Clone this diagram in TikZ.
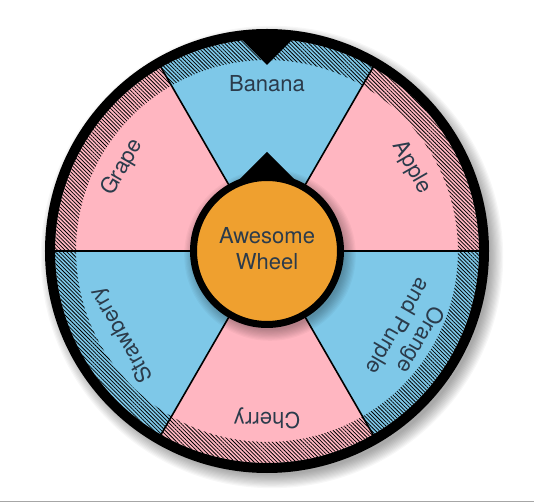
\documentclass[tikz,border=0pt]{standalone}
\usepackage{fontspec}
\setmainfont{TeX Gyre Heros}
\usetikzlibrary{patterns.meta}
\definecolor{segblue}{HTML}{7EC8E8}
\definecolor{segpink}{HTML}{FFB6C1}
\definecolor{hub}{HTML}{EFA02F}
\definecolor{ink}{HTML}{2B3B4B}
\begin{document}
\begin{tikzpicture}[
 lbl/.style={font=\fontsize{22}{26}\selectfont, text=ink, inner sep=0pt, align=center},
 divider/.style={draw=black, line width=1.6pt},
 hatch/.style={pattern={Lines[angle=-45,distance=2.7pt,line width=0.75pt]}, pattern color=black},
 softshade/.style={fill=black, opacity=0.03},
]
\useasboundingbox (-267pt,-251pt) rectangle (267pt,251pt);
\fill[white] (-267pt,-251pt) rectangle (267pt,251pt);
% bottom rule
\fill[gray!70] (-267pt,-251pt) rectangle (267pt,-249.6pt);
% wheel shadow
\foreach \i in {0,...,11} \fill[softshade] (5pt,-6pt) circle ({218pt+\i*1.2pt});
% segments
\foreach \a/\c in {0/segpink,60/segblue,120/segpink,180/segblue,240/segpink,300/segblue}
  \fill[\c] (0,0) -- (\a:212pt) arc[start angle=\a, end angle=\a+60, radius=212pt] -- cycle;
% hatched band
\fill[hatch, even odd rule] (0,0) circle (212pt) (0,0) circle (191pt);
% dividers
\foreach \a in {0,60,...,300} \draw[divider] (0,0) -- (\a:213pt);
% outer ring
\draw[line width=10pt] (0,0) circle (217pt);
% top pointer
\fill (0pt,186pt) -- (30pt,216pt) -- (-30pt,216pt) -- cycle;
% hub shadow
\foreach \i in {0,...,9} \fill[black,opacity=0.03] (3pt,-4pt) circle ({75pt+\i*1.2pt});
% hub pointer
\fill (0pt,99pt) -- (39pt,60pt) -- (-39pt,60pt) -- cycle;
% hub
\draw[line width=7pt, fill=hub] (0,0) circle (73.5pt);
\node[lbl] (hubtext) at (0pt,2pt) {Awesome\\Wheel};
% labels
\node[lbl, rotate=0]    (banana) at (90:167pt)  {Banana};
\node[lbl, rotate=-60]  (apple)  at (30:167pt)  {Apple};
\node[lbl, rotate=60]   (grape)  at (150:167pt) {Grape};
\node[lbl, rotate=120]  (straw)  at (210:167pt) {Strawberry};
\node[lbl, rotate=180]  (cherry) at (270:167pt) {Cherry};
\node[lbl, rotate=-120] (orange) at (330:163pt) {Orange\\and Purple};
\end{tikzpicture}
\end{document}
